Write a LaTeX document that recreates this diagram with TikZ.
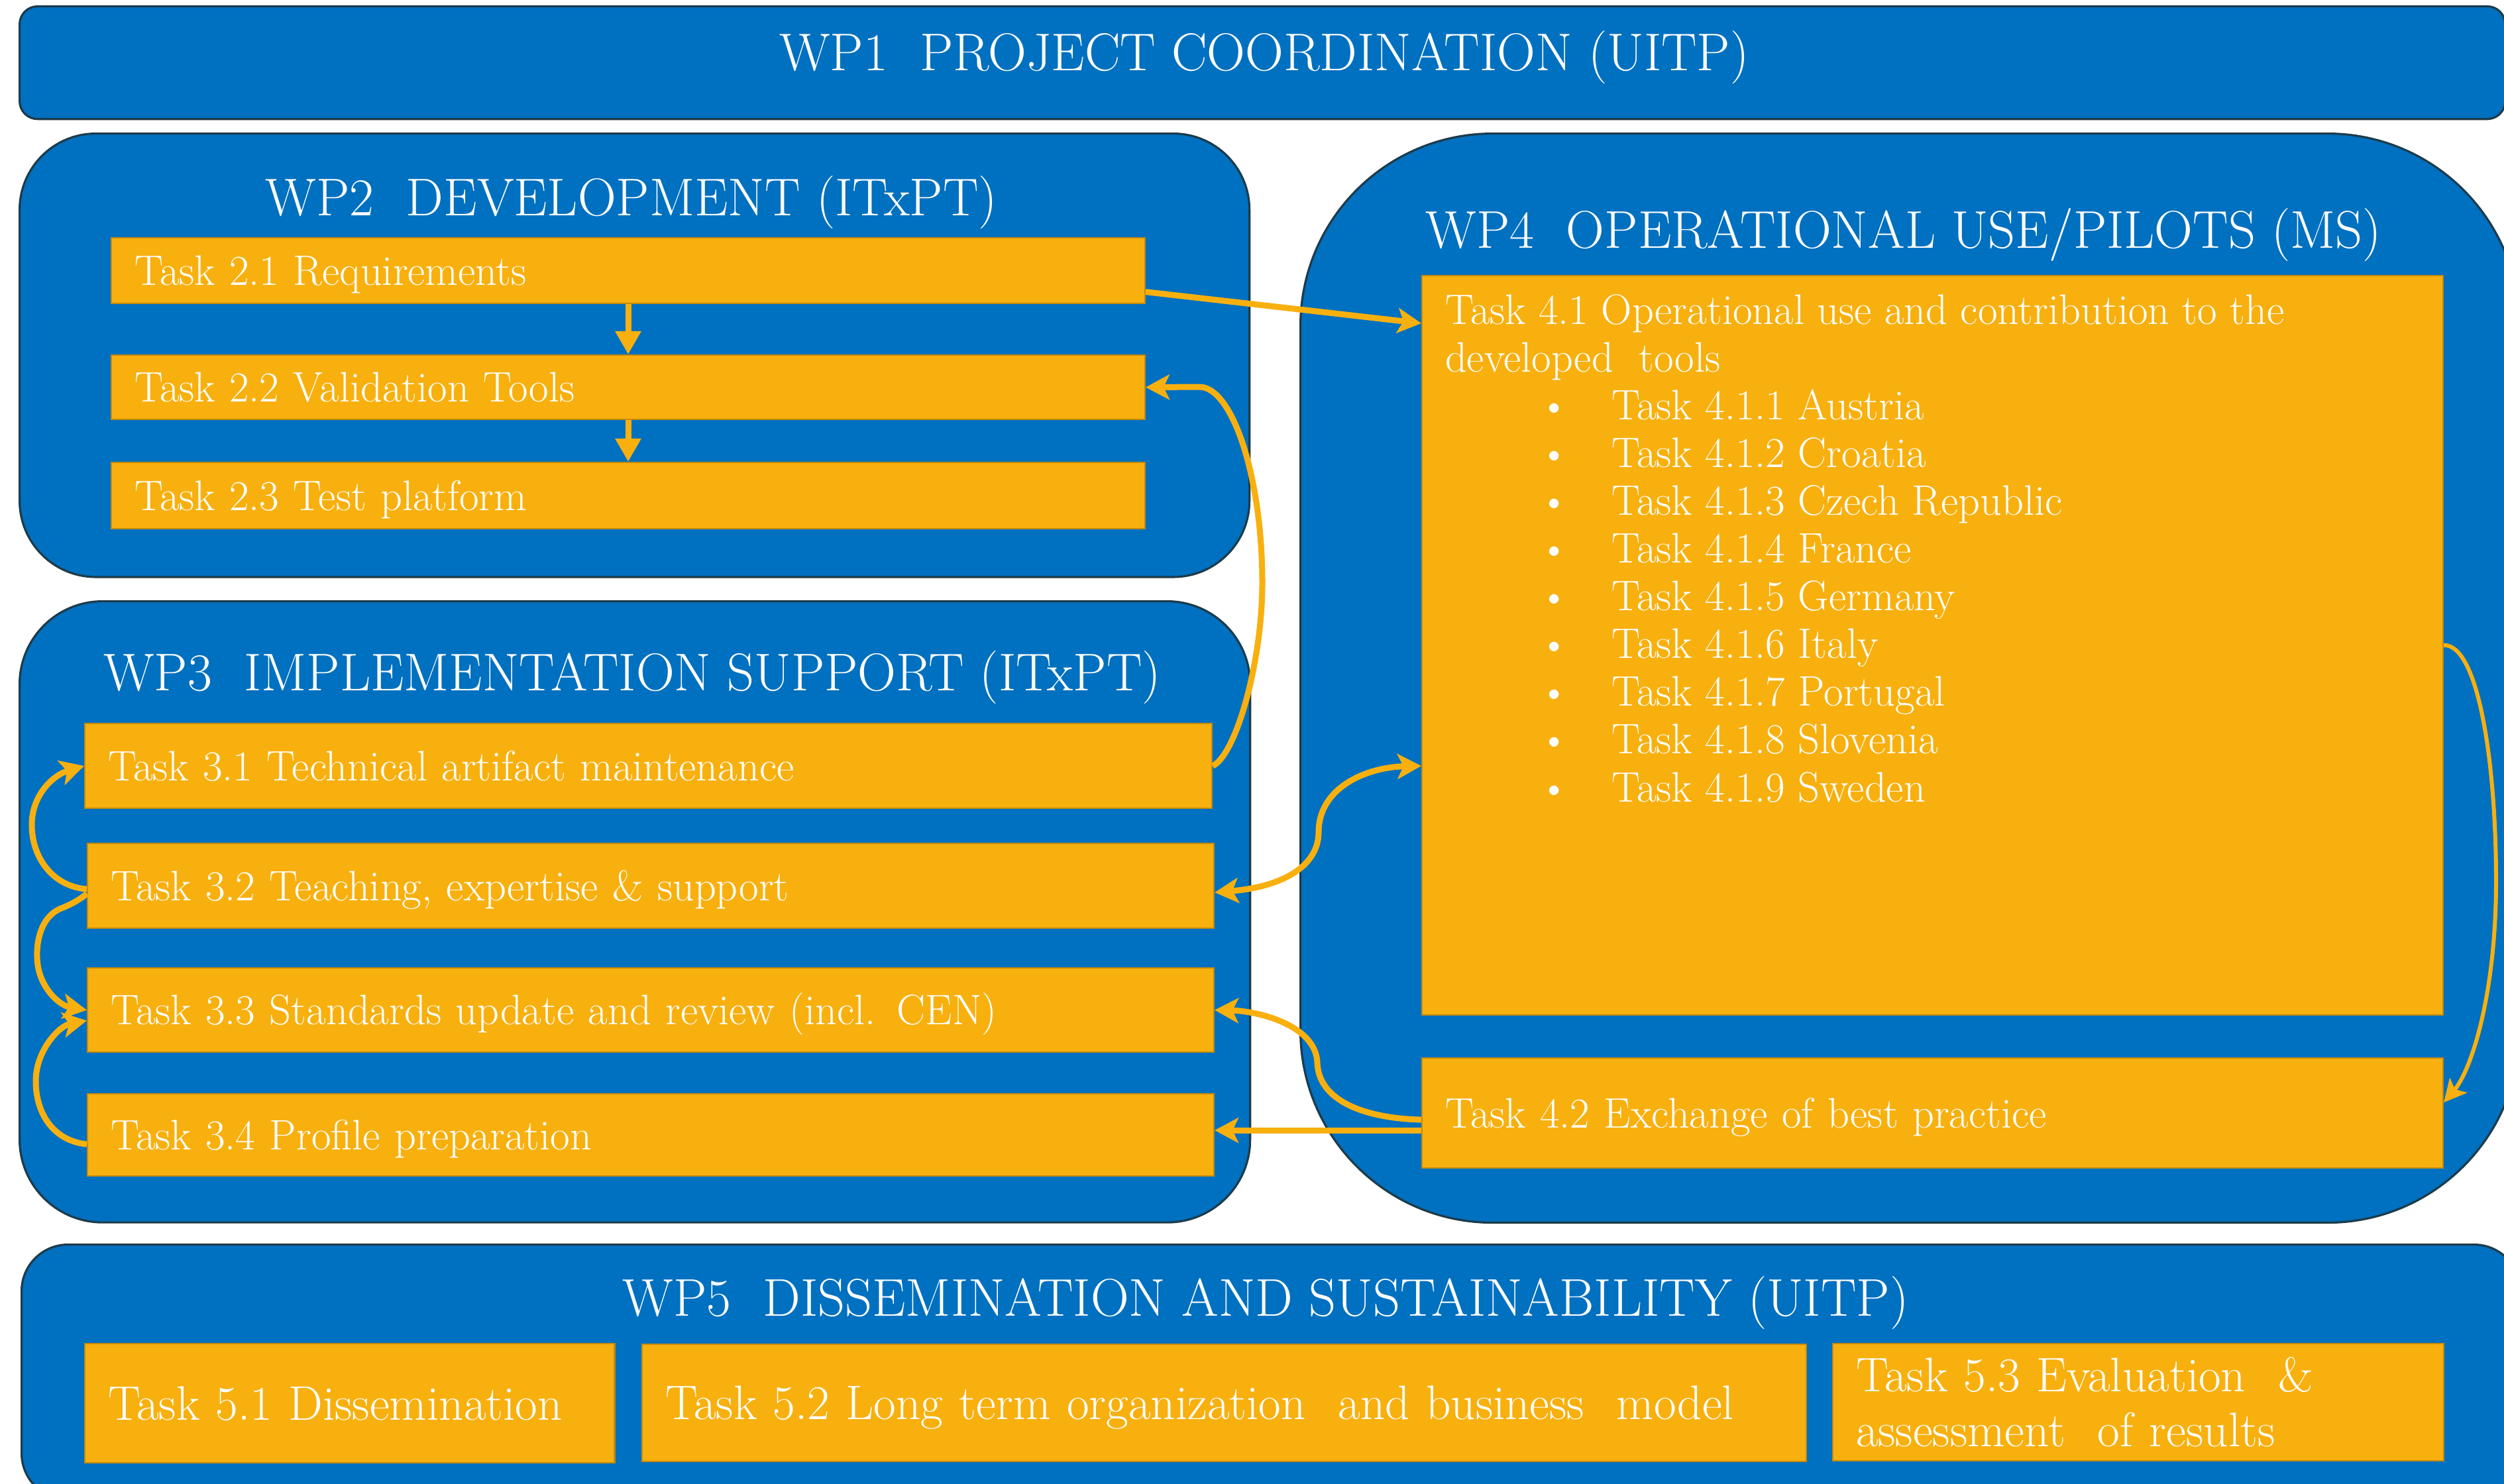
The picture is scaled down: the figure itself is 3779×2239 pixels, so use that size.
\documentclass[tikz,border=0pt]{standalone}
\usepackage{graphicx}
\usetikzlibrary{arrows.meta,calc}
\definecolor{wpblue}{HTML}{0070C0}
\definecolor{gold}{HTML}{F8B00F}
\definecolor{goldline}{HTML}{C58A0A}
\definecolor{wpline}{HTML}{1D3B4A}
\newcommand{\tfont}{\fontsize{22.8}{26}\selectfont}
\newcommand{\bitem}[1]{\hspace*{1.64cm}\makebox[0pt]{\textbullet}\hspace*{0.87cm}#1}
\begin{document}
\begin{tikzpicture}[x=0.01cm,y=-0.01cm,
  wp/.style={draw=wpline, line width=0.9pt, fill=wpblue, anchor=north west, inner sep=0pt},
  wptitle/.style={text=white, font=\tfont, anchor=base, inner sep=0pt},
  taskbase/.style={draw=goldline, line width=0.6pt, fill=gold, text=white, anchor=north west,
     inner xsep=0.35cm, inner ysep=0pt, font=\fontsize{18.3}{20.5}\selectfont},
  task/.style={taskbase, align=left, text height=12.5pt, text depth=0pt},
  taskv/.style={task, font=\fontsize{20.8}{23.6}\selectfont, text height=14.2pt},
  flow/.style={draw=gold, line width=0.09cm, -{Stealth[length=0.36cm,width=0.38cm,inset=0.09cm]}},
  flowthin/.style={draw=gold, line width=0.06cm, -{Stealth[length=0.34cm,width=0.34cm,inset=0.08cm]}},
  flowtwo/.style={draw=gold, line width=0.09cm, {Stealth[length=0.36cm,width=0.38cm,inset=0.09cm]}-{Stealth[length=0.36cm,width=0.38cm,inset=0.09cm]}},
  down/.style={draw=gold, line width=0.09cm, -{Triangle[length=0.35cm,width=0.37cm]}}
]
\useasboundingbox (0,0) rectangle (3779,2239);
\fill[white] (0,0) rectangle (3779,2239);
\clip (0,0) rectangle (3779,2239);

% work package containers
\node[wp, minimum width=37.49cm, minimum height=1.70cm, rounded corners=0.27cm] (WP1) at (28,8) {};
\node[wp, minimum width=18.55cm, minimum height=6.69cm, rounded corners=1.15cm] (WP2) at (28,200) {};
\node[wp, minimum width=18.56cm, minimum height=9.37cm, rounded corners=1.25cm] (WP3) at (28,906) {};
\node[wp, minimum width=18.39cm, minimum height=16.43cm, rounded corners=2.9cm] (WP4) at (1961,200) {};
\node[wp, minimum width=37.69cm, minimum height=3.85cm, rounded corners=0.7cm] (WP5) at (31,1877) {};

% titles
\node[wptitle] (WP1t) at (1908,106) {WP1~~PROJECT COORDINATION (UITP)};
\node[wptitle] (WP2t) at (953,325) {WP2~~DEVELOPMENT (ITxPT)};
\node[wptitle] (WP3t) at (954,1042) {WP3~~IMPLEMENTATION SUPPORT (ITxPT)};
\node[wptitle] (WP4t) at (2873,374) {WP4~~OPERATIONAL USE/PILOTS (MS)};
\node[wptitle] (WP5t) at (1910,1986) {WP5~~DISSEMINATION AND SUSTAINABILITY (UITP)};

% WP2 tasks
\node[task, text width=14.89cm, minimum height=0.99cm] (T21) at (167,358) {Task 2.1 Requirements};
\node[task, text width=14.89cm, minimum height=0.97cm] (T22) at (167,535) {Task 2.2 Validation Tools};
\node[task, text width=14.89cm, minimum height=1.00cm] (T23) at (167,697) {Task 2.3 Test platform};

% WP3 tasks
\node[task, text width=16.30cm, minimum height=1.28cm] (T31) at (127,1091) {Task 3.1 Technical artifact maintenance};
\node[task, text width=16.29cm, minimum height=1.28cm] (T32) at (131,1272) {Task 3.2 Teaching, expertise \& support};
\node[task, text width=16.29cm, minimum height=1.27cm] (T33) at (131,1460) {Task 3.3 Standards update and review (incl. CEN)};
\node[task, text width=16.29cm, minimum height=1.24cm] (T34) at (131,1650) {Task 3.4 Profile preparation};

% WP4 tasks
\node[taskbase] (T41) at (2145,415) {\parbox[c][11.15cm][t]{14.70cm}{\rule{0pt}{0.73cm}Task 4.1 Operational use and contribution to the\\
developed~~tools\\
\bitem{Task 4.1.1 Austria}\\
\bitem{Task 4.1.2 Croatia}\\
\bitem{Task 4.1.3 Czech Republic}\\
\bitem{Task 4.1.4 France}\\
\bitem{Task 4.1.5 Germany}\\
\bitem{Task 4.1.6 Italy}\\
\bitem{Task 4.1.7 Portugal}\\
\bitem{Task 4.1.8 Slovenia}\\
\bitem{Task 4.1.9 Sweden}}};
\node[task, text width=14.70cm, minimum height=1.66cm] (T42) at (2145,1596) {Task 4.2 Exchange of best practice};

% WP5 tasks
\node[taskv, text width=7.29cm, minimum height=1.80cm] (T51) at (127,2027) {Task 5.1 Dissemination};
\node[taskv, text width=16.86cm, minimum height=1.77cm] (T52) at (968,2028) {Task 5.2 Long term organization~~and business~~model};
\node[taskv, text width=8.51cm, minimum height=1.77cm, text depth=23.6pt] (T53) at (2765,2027) {Task 5.3 Evaluation~~\&\\assessment~~of results};

% connectors
\draw[down] (T21.south) -- (T22.north);
\draw[down] (T22.south) -- (T23.north);
\draw[flow] ($(T21.east)+(0,32)$) -- ($(T41.north west)+(0,73)$);
\draw[flow] (T31.east) .. controls (1865,1140) and (1905,1000) .. (1905,880)
   .. controls (1905,720) and (1860,584) .. (1810,584) -- (T22.east);
\draw[flowtwo] ($(T32.east)+(0,10)$) .. controls (1940,1338) and (1990,1305) .. (1990,1256)
   .. controls (1990,1190) and (2060,1158) .. (T41.west |- T31.east);
\draw[flow] ($(T42.west)+(0,10)$) .. controls (2060,1688) and (1990,1662) .. (1988,1604)
   .. controls (1986,1548) and (1900,1526) .. (T33.east);
\coordinate (g1) at ($(T42.west)+(0,26)$);
\draw[flow] (g1) -- (g1 -| T34.east);
\draw[flowthin] (T41.east) .. controls (3740,972) and (3767,1150) .. (3767,1330)
   .. controls (3767,1500) and (3730,1615) .. ($(T42.east)+(0,-16)$);
% loops on the left of WP3
\draw[flow] ($(T32.west)+(0,5)$) .. controls (80,1338) and (48,1295) .. (48,1245)
   .. controls (48,1200) and (80,1170) .. (T31.west);
\draw[flow] ($(T32.west)+(0,12)$) .. controls (115,1362) and (100,1368) .. (90,1372)
   .. controls (62,1385) and (55,1420) .. (56,1445)
   .. controls (57,1490) and (90,1518) .. (T33.west);
\draw[flow] ($(T34.west)+(0,14)$) .. controls (80,1722) and (54,1680) .. (54,1632)
   .. controls (54,1585) and (90,1548) .. ($(T33.west)+(0,16)$);
\end{tikzpicture}
\end{document}
